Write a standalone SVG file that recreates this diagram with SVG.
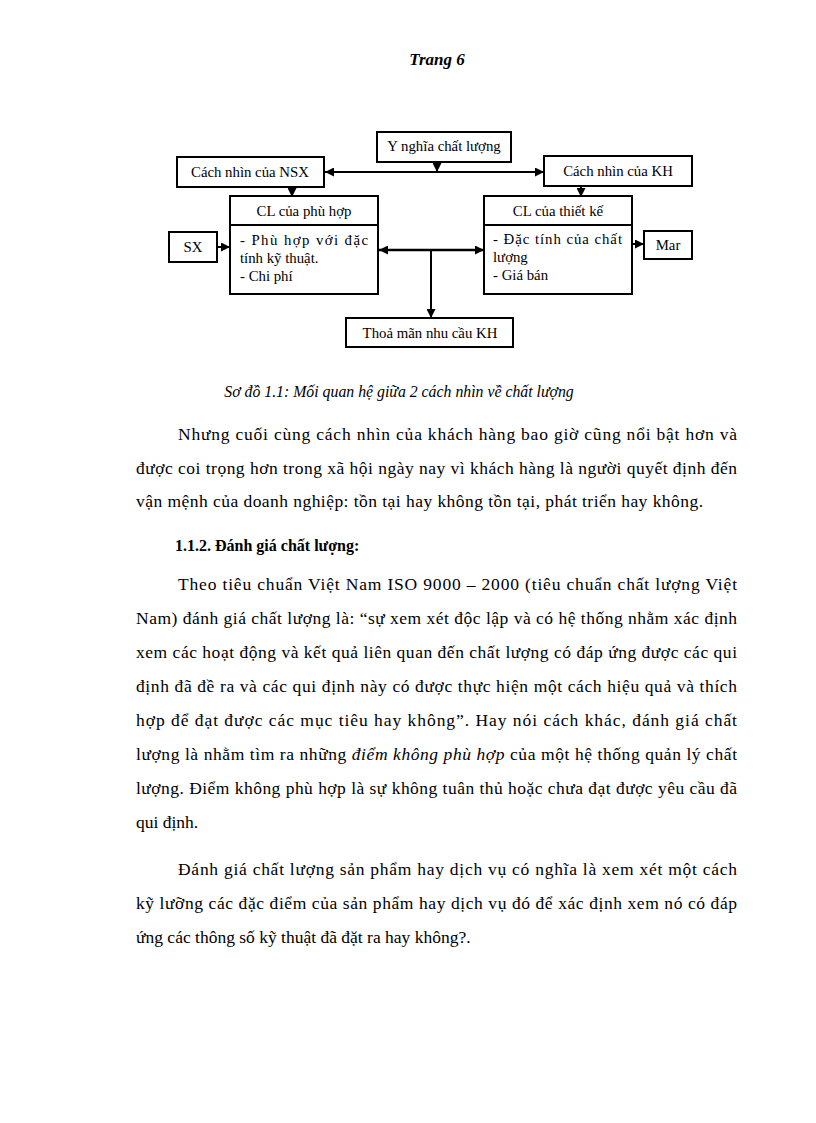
<svg xmlns="http://www.w3.org/2000/svg" width="816" height="1123" viewBox="0 0 816 1123">
<defs>
<style>
.box{fill:#fff;stroke:#000;stroke-width:2}
.dt{font-family:"Liberation Serif","Times New Roman",serif;font-size:14.8px;fill:#000}
.c{text-anchor:middle}
.body{font-family:"Liberation Serif","Times New Roman",serif;font-size:17.5px;fill:#000}
.ln{stroke:#000;stroke-width:2;fill:none}
</style>
<marker id="ah" viewBox="0 0 10 10" refX="10" refY="5" markerWidth="9" markerHeight="9" markerUnits="userSpaceOnUse" orient="auto">
<path d="M0,0 L10,5 L0,10 z" fill="#000"/>
</marker>
</defs>
<rect width="816" height="1123" fill="#fff"/>
<text x="437" y="65" text-anchor="middle" font-family="'Liberation Serif',serif" font-style="italic" font-weight="bold" font-size="17">Trang 6</text>

<g id="connectors">
<line class="ln" x1="437" y1="162" x2="437" y2="172" marker-end="url(#ah)"/>
<line class="ln" x1="437" y1="172" x2="325" y2="172" marker-end="url(#ah)"/>
<line class="ln" x1="437" y1="172" x2="544" y2="172" marker-end="url(#ah)"/>
<line class="ln" x1="292" y1="187" x2="292" y2="197" marker-end="url(#ah)"/>
<line class="ln" x1="581" y1="186" x2="581" y2="197" marker-end="url(#ah)"/>
<line class="ln" x1="217" y1="247" x2="230" y2="247" marker-end="url(#ah)"/>
<line class="ln" x1="632" y1="244" x2="644" y2="244" marker-end="url(#ah)"/>
<line class="ln" x1="431" y1="250" x2="379" y2="250" marker-end="url(#ah)" style="stroke-width:2.5"/>
<line class="ln" x1="431" y1="250" x2="484" y2="250" marker-end="url(#ah)" style="stroke-width:2.5"/>
<line class="ln" x1="431" y1="250" x2="431" y2="318" marker-end="url(#ah)"/>
</g>

<g id="ynghia">
<rect class="box" x="377" y="132" width="134" height="30"/>
<text class="dt c" x="444" y="151">Y nghĩa chất lượng</text>
</g>
<g id="nsx">
<rect class="box" x="177" y="157" width="147" height="30"/>
<text class="dt c" x="250" y="177">Cách nhìn của NSX</text>
</g>
<g id="kh">
<rect class="box" x="544" y="156" width="148" height="30"/>
<text class="dt c" x="618" y="176">Cách nhìn của KH</text>
</g>
<g id="clphuhop">
<rect class="box" x="230" y="196" width="148" height="98"/>
<line class="ln" x1="230" y1="225" x2="378" y2="225"/>
<text class="dt c" x="304" y="216">CL của phù hợp</text>
<text class="dt" x="240" y="245" textLength="128" lengthAdjust="spacing">- Phù hợp với đặc</text>
<text class="dt" x="240" y="263">tính kỹ thuật.</text>
<text class="dt" x="240" y="281">- Chi phí</text>
</g>
<g id="clthietke">
<rect class="box" x="484" y="196" width="148" height="98"/>
<line class="ln" x1="484" y1="225" x2="632" y2="225"/>
<text class="dt c" x="558" y="216">CL của thiết kế</text>
<text class="dt" x="493" y="244" textLength="129" lengthAdjust="spacing">- Đặc tính của chất</text>
<text class="dt" x="493" y="262">lượng</text>
<text class="dt" x="493" y="280">- Giá bán</text>
</g>
<g id="sx">
<rect class="box" x="169" y="232" width="48" height="30"/>
<text class="dt c" x="193" y="252">SX</text>
</g>
<g id="mar">
<rect class="box" x="644" y="231" width="48" height="28"/>
<text class="dt c" x="668" y="250">Mar</text>
</g>
<g id="thoaman">
<rect class="box" x="346" y="318" width="167" height="29"/>
<text class="dt c" x="430" y="338">Thoả mãn nhu cầu KH</text>
</g>

<text class="body" x="399" y="397" text-anchor="middle" style="font-style:italic;font-size:15.8px">Sơ đồ 1.1: Mối quan hệ giữa 2 cách nhìn về chất lượng</text>

<text class="body" x="178" y="440" textLength="559" lengthAdjust="spacing">Nhưng cuối cùng cách nhìn của khách hàng bao giờ cũng nổi bật hơn và</text>
<text class="body" x="136" y="474" textLength="601" lengthAdjust="spacing">được coi trọng hơn trong xã hội ngày nay vì khách hàng là người quyết định đến</text>
<text class="body" x="136" y="507" textLength="567" lengthAdjust="spacing">vận mệnh của doanh nghiệp: tồn tại hay không tồn tại, phát triển hay không.</text>

<text class="body" x="175" y="551" style="font-weight:bold;font-size:16px">1.1.2. Đánh giá chất lượng:</text>

<text class="body" x="178" y="590" textLength="559" lengthAdjust="spacing">Theo tiêu chuẩn Việt Nam ISO 9000 – 2000 (tiêu chuẩn chất lượng Việt</text>
<text class="body" x="136" y="624" textLength="601" lengthAdjust="spacing">Nam) đánh giá chất lượng là: “sự xem xét độc lập và có hệ thống nhằm xác định</text>
<text class="body" x="136" y="658" textLength="601" lengthAdjust="spacing">xem các hoạt động và kết quả liên quan đến chất lượng có đáp ứng được các qui</text>
<text class="body" x="136" y="692" textLength="601" lengthAdjust="spacing">định đã đề ra và các qui định này có được thực hiện một cách hiệu quả và thích</text>
<text class="body" x="136" y="726" textLength="601" lengthAdjust="spacing">hợp để đạt được các mục tiêu hay không”. Hay nói cách khác, đánh giá chất</text>
<text class="body" x="136" y="760" textLength="601" lengthAdjust="spacing">lượng là nhằm tìm ra những <tspan style="font-style:italic">điểm không phù hợp</tspan> của một hệ thống quản lý chất</text>
<text class="body" x="136" y="794" textLength="601" lengthAdjust="spacing">lượng. Điểm không phù hợp là sự không tuân thủ hoặc chưa đạt được yêu cầu đã</text>
<text class="body" x="136" y="828">qui định.</text>

<text class="body" x="178" y="875" textLength="559" lengthAdjust="spacing">Đánh giá chất lượng sản phẩm hay dịch vụ có nghĩa là xem xét  một cách</text>
<text class="body" x="136" y="909" textLength="601" lengthAdjust="spacing">kỹ lưỡng các đặc điểm của sản phẩm hay dịch vụ đó để xác định xem nó có đáp</text>
<text class="body" x="136" y="943">ứng các thông số kỹ thuật đã đặt ra hay không?.</text>
</svg>
